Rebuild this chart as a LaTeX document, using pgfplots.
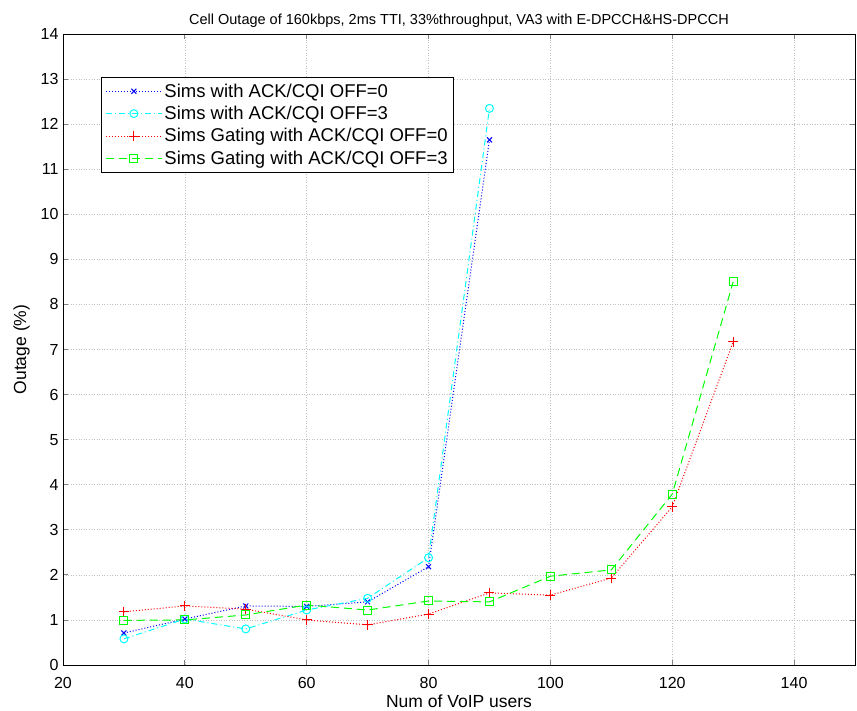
\documentclass[border=0pt]{standalone}
\usepackage{pgfplots}
\pgfplotsset{compat=1.18}
\usepackage{fontspec}
\setmainfont{Liberation Sans}
\definecolor{mblue}{rgb}{0,0,1}
\definecolor{mcyan}{rgb}{0,1,1}
\definecolor{mred}{rgb}{1,0,0}
\definecolor{mgreen}{rgb}{0,1,0}
\begin{document}
\begin{tikzpicture}
\begin{axis}[
  scale only axis,
  width=792bp, height=631bp,
  xmin=20, xmax=150, ymin=0, ymax=14,
  xtick={20,40,60,80,100,120,140},
  ytick={0,1,2,3,4,5,6,7,8,9,10,11,12,13,14},
  tick align=inside,
  major tick length=5bp,
  xtick pos=both, ytick pos=both,
  grid=major,
  grid style={line width=0.6bp, dotted},
  axis line style={line width=0.8bp},
  tick style={line width=0.8bp},
  /pgf/number format/assume math mode=true,
  ticklabel style={font=\fontsize{16bp}{18bp}\selectfont},
  xticklabel style={yshift=-9bp},
  yticklabel style={xshift=-1bp},
  label style={font=\fontsize{17.5bp}{20bp}\selectfont},
  xlabel={Num of VoIP users},
  ylabel={Outage (\%)},
  xlabel style={yshift=1bp},
  ylabel style={yshift=4bp},
  title={Cell Outage of 160kbps, 2ms TTI, 33\%throughput, VA3 with E-DPCCH\&HS-DPCCH},
  title style={font=\fontsize{14.5bp}{17bp}\selectfont, yshift=-3bp},
  legend style={at={(0.048,0.932)}, anchor=north west, line width=0.8bp,
    font=\fontsize{18.5bp}{22bp}\selectfont, row sep=3.5bp, inner xsep=4bp, inner ysep=4.5bp},
  legend cell align=left,
  legend image code/.code={
    \draw[mark repeat=2,mark phase=2] plot coordinates {(0bp,0bp) (28bp,0bp) (56bp,0bp)};
  },
]
\addplot[mblue, dotted, line width=1bp, mark=x, mark size=3.5bp, mark options={solid}] coordinates {
(30,0.71) (40,1.02) (50,1.31) (60,1.30) (70,1.40) (80,2.18) (90,11.65)};
\addlegendentry{Sims with ACK/CQI OFF=0}
\addplot[mcyan, dash pattern=on 6bp off 3bp on 1bp off 3bp, line width=1bp, mark=o, mark size=4bp, mark options={solid}] coordinates {
(30,0.58) (40,1.02) (50,0.80) (60,1.22) (70,1.48) (80,2.38) (90,12.35)};
\addlegendentry{Sims with ACK/CQI OFF=3}
\addplot[mred, dotted, line width=1bp, mark=+, mark size=5bp, mark options={solid}] coordinates {
(30,1.18) (40,1.31) (50,1.24) (60,1.00) (70,0.89) (80,1.13) (90,1.60) (100,1.55) (110,1.93) (120,3.51) (130,7.17)};
\addlegendentry{Sims Gating with ACK/CQI OFF=0}
\addplot[mgreen, dash pattern=on 8bp off 5bp, line width=1bp, mark=square, mark size=4bp, mark options={solid}] coordinates {
(30,0.99) (40,1.00) (50,1.11) (60,1.33) (70,1.22) (80,1.42) (90,1.40) (100,1.97) (110,2.11) (120,3.79) (130,8.50)};
\addlegendentry{Sims Gating with ACK/CQI OFF=3}
\end{axis}
\pgfresetboundingbox
\path[use as bounding box] (current axis.south west) ++(-63bp,-46bp) rectangle ([xshift=2bp,yshift=34bp]current axis.north east);
\end{tikzpicture}
\end{document}
